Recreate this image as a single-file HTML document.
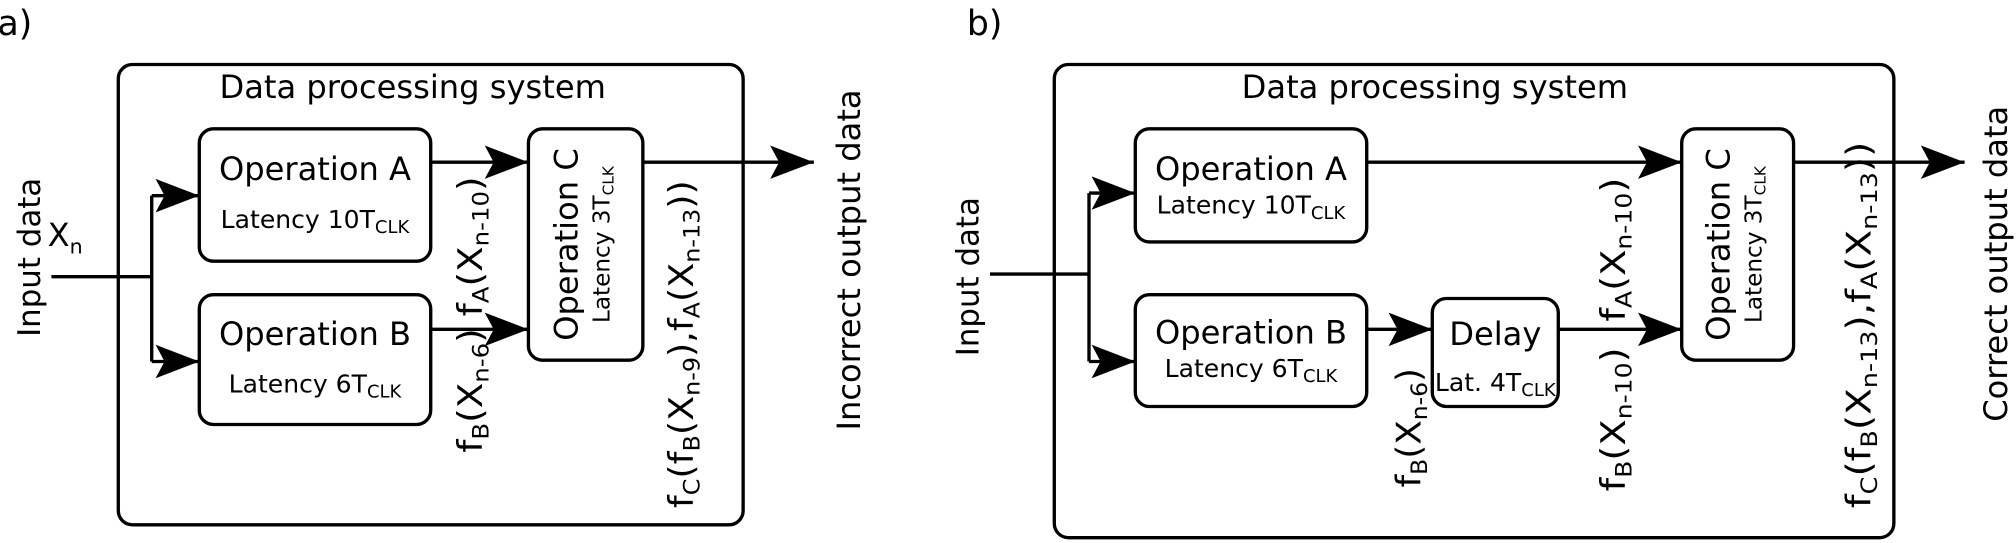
<!DOCTYPE html>
<html><head><meta charset="utf-8"><style>
html,body{margin:0;padding:0;background:#fff;}
svg{display:block;}
text{font-family:"DejaVu Sans","Liberation Sans",sans-serif;}
</style></head><body>
<svg width="2016" height="543" viewBox="0 0 1568 422" xmlns="http://www.w3.org/2000/svg">
<defs>
<marker id="ar" markerUnits="userSpaceOnUse" markerWidth="40" markerHeight="34" refX="34" refY="17" orient="auto">
<path d="M0,4 L34,17 L0,30 L7,17 Z" fill="#000"/>
</marker>
</defs>
<g fill="none" stroke="#000" stroke-width="2.6">
<rect x="92" y="50" width="486" height="358" rx="11"/>
<rect x="155" y="100" width="180" height="103" rx="11"/>
<rect x="155" y="229" width="180" height="101" rx="11"/>
<rect x="411" y="100" width="89" height="180" rx="11"/>
<path d="M40,215 H118 M118,152 V281"/>
<path d="M118,152 H155" marker-end="url(#ar)"/>
<path d="M118,281 H155" marker-end="url(#ar)"/>
<path d="M335,126 H411" marker-end="url(#ar)"/>
<path d="M335,256 H411" marker-end="url(#ar)"/>
<path d="M500,126 H633" marker-end="url(#ar)"/>
<rect x="820" y="50" width="653" height="368" rx="11"/>
<rect x="883" y="100" width="180" height="88" rx="11"/>
<rect x="883" y="229" width="180" height="87" rx="11"/>
<rect x="1114" y="232" width="98" height="84" rx="11"/>
<rect x="1308" y="100" width="87" height="180" rx="11"/>
<path d="M770,213 H847 M847,150 V281"/>
<path d="M847,150 H883" marker-end="url(#ar)"/>
<path d="M847,281 H883" marker-end="url(#ar)"/>
<path d="M1063,126 H1308" marker-end="url(#ar)"/>
<path d="M1063,256 H1114" marker-end="url(#ar)"/>
<path d="M1212,256 H1308" marker-end="url(#ar)"/>
<path d="M1395,126 H1528" marker-end="url(#ar)"/>
</g>
<g fill="#000">
<text x="-2" y="27" font-size="27">a)</text>
<text x="752" y="27" font-size="27">b)</text>
<text x="321" y="76" font-size="25" text-anchor="middle">Data processing system</text>
<text x="1116" y="76" font-size="25" text-anchor="middle">Data processing system</text>

<text x="245" y="140" font-size="25" text-anchor="middle">Operation A</text>
<text x="245" y="177" font-size="19.5" text-anchor="middle">Latency 10T<tspan font-size="14" dy="4">CLK</tspan></text>
<text x="245" y="268" font-size="25" text-anchor="middle">Operation B</text>
<text x="245" y="305" font-size="19.5" text-anchor="middle">Latency 6T<tspan font-size="14" dy="4">CLK</tspan></text>
<text x="37" y="191" font-size="25">X<tspan font-size="16" dy="6">n</tspan></text>

<text x="973" y="140" font-size="25" text-anchor="middle">Operation A</text>
<text x="973" y="166" font-size="19.5" text-anchor="middle">Latency 10T<tspan font-size="14" dy="4">CLK</tspan></text>
<text x="973" y="267" font-size="25" text-anchor="middle">Operation B</text>
<text x="973" y="293" font-size="19.5" text-anchor="middle">Latency 6T<tspan font-size="14" dy="4">CLK</tspan></text>
<text x="1163" y="268" font-size="25" text-anchor="middle">Delay</text>
<text x="1163" y="304" font-size="19.5" text-anchor="middle">Lat. 4T<tspan font-size="14" dy="4">CLK</tspan></text>

<text transform="translate(31,200) rotate(-90)" font-size="24" text-anchor="middle">Input data</text>
<text transform="translate(761,215) rotate(-90)" font-size="24" text-anchor="middle">Input data</text>
<text transform="translate(669,202) rotate(-90)" font-size="25" text-anchor="middle">Incorrect output data</text>
<text transform="translate(1561,205) rotate(-90)" font-size="25" text-anchor="middle">Correct output data</text>

<text transform="translate(449,190) rotate(-90)" font-size="25" text-anchor="middle">Operation C</text>
<text transform="translate(474,190) rotate(-90)" font-size="18" text-anchor="middle">Latency 3T<tspan font-size="12" dy="3">CLK</tspan></text>
<text transform="translate(1345,190) rotate(-90)" font-size="25" text-anchor="middle">Operation C</text>
<text transform="translate(1370,190) rotate(-90)" font-size="18" text-anchor="middle">Latency 3T<tspan font-size="12" dy="3">CLK</tspan></text>

<text transform="translate(375,352) rotate(-90)" font-size="26" textLength="215" lengthAdjust="spacingAndGlyphs">f<tspan font-size="17" dy="5">B</tspan><tspan dy="-5">(X</tspan><tspan font-size="17" dy="5">n-6</tspan><tspan dy="-5">) f</tspan><tspan font-size="17" dy="5">A</tspan><tspan dy="-5">(X</tspan><tspan font-size="17" dy="5">n-10</tspan><tspan dy="-5">)</tspan></text>
<text transform="translate(539,395) rotate(-90)" font-size="26" textLength="255" lengthAdjust="spacingAndGlyphs">f<tspan font-size="17" dy="5">C</tspan><tspan dy="-5">(f</tspan><tspan font-size="17" dy="5">B</tspan><tspan dy="-5">(X</tspan><tspan font-size="17" dy="5">n-9</tspan><tspan dy="-5">),f</tspan><tspan font-size="17" dy="5">A</tspan><tspan dy="-5">(X</tspan><tspan font-size="17" dy="5">n-13</tspan><tspan dy="-5">))</tspan></text>

<text transform="translate(1105,379) rotate(-90)" font-size="26" textLength="93" lengthAdjust="spacingAndGlyphs">f<tspan font-size="17" dy="5">B</tspan><tspan dy="-5">(X</tspan><tspan font-size="17" dy="5">n-6</tspan><tspan dy="-5">)</tspan></text>
<text transform="translate(1264,250) rotate(-90)" font-size="26" textLength="112" lengthAdjust="spacingAndGlyphs">f<tspan font-size="17" dy="5">A</tspan><tspan dy="-5">(X</tspan><tspan font-size="17" dy="5">n-10</tspan><tspan dy="-5">)</tspan></text>
<text transform="translate(1264,382) rotate(-90)" font-size="26" textLength="112" lengthAdjust="spacingAndGlyphs">f<tspan font-size="17" dy="5">B</tspan><tspan dy="-5">(X</tspan><tspan font-size="17" dy="5">n-10</tspan><tspan dy="-5">)</tspan></text>
<text transform="translate(1455,395) rotate(-90)" font-size="26" textLength="285" lengthAdjust="spacingAndGlyphs">f<tspan font-size="17" dy="5">C</tspan><tspan dy="-5">(f</tspan><tspan font-size="17" dy="5">B</tspan><tspan dy="-5">(X</tspan><tspan font-size="17" dy="5">n-13</tspan><tspan dy="-5">),f</tspan><tspan font-size="17" dy="5">A</tspan><tspan dy="-5">(X</tspan><tspan font-size="17" dy="5">n-13</tspan><tspan dy="-5">))</tspan></text>
</g>
</svg>
</body></html>
